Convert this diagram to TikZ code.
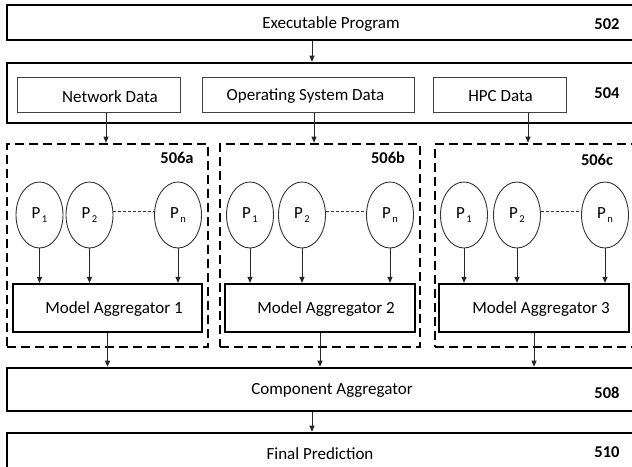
\documentclass[tikz,border=0pt]{standalone}
\usepackage{fontspec}
\setmainfont{Carlito}
\usetikzlibrary{arrows.meta,shapes.geometric}

% subscripted model label: P with a small lowered index
\newcommand\pmodel[1]{P\kern1.5pt\raisebox{-0.45ex}{\fontsize{10.5}{11}\selectfont #1}}

\tikzset{
  txt/.style={font=\fontsize{17}{20}\selectfont, inner sep=0pt, yshift=-1.5pt},
  num/.style={font=\fontsize{16.5}{19}\selectfont\bfseries, inner sep=0pt},
  widebox/.style={draw, line width=2.6pt, inner sep=0pt},
  databox/.style={draw=black!75, line width=1pt, inner sep=0pt, minimum height=35pt},
  groupbox/.style={draw, line width=2.6pt, dash pattern=on 9pt off 5pt, inner sep=0pt,
                   minimum height=203pt},
  aggbox/.style={draw, line width=2.2pt, inner sep=0pt, minimum width=190pt, minimum height=48pt},
  pnode/.style={ellipse, draw=black!80, line width=0.9pt, inner sep=0pt,
                minimum width=47pt, minimum height=66pt,
                font=\fontsize{17}{20}\selectfont},
  arr/.style={draw=black!85, line width=0.9pt, -{Triangle[length=6pt,width=5pt]}},
  gap/.style={draw=black!80, line width=0.8pt, dash pattern=on 3pt off 2pt},
}

\begin{document}
\begin{tikzpicture}[x=1pt,y=-1pt]
\useasboundingbox (0,0) rectangle (632,466);
\clip (0,0) rectangle (632,466);

% top level: program and collected data
\node[widebox, minimum width=648pt, minimum height=35pt] (prog) at (331,22.5) {};
\node[txt] (progtxt) at (331,23) {Executable Program};
\node[num] (n502) at (607,24) {502};

\node[widebox, minimum width=648pt, minimum height=60pt] (data) at (331,93) {};
\node[databox, minimum width=163pt] (net) at (98.5,94.5) {};
\node[databox, minimum width=212pt] (os) at (308,94.5) {};
\node[databox, minimum width=133pt] (hpc) at (499.5,94.5) {};
\node[txt] (nettxt) at (110,95) {Network Data};
\node[txt] (ostxt) at (305.5,95) {Operating System Data};
\node[txt] (hpctxt) at (500.5,95) {HPC Data};
\node[num] (n504) at (607,93) {504};

% three model groups
\node[groupbox, minimum width=201pt] (ga) at (107.5,245.5) {};
\node[groupbox, minimum width=200pt] (gb) at (320,245.5) {};
\node[groupbox, minimum width=225pt] (gc) at (547.5,245.5) {};
\node[num] (n506a) at (177,158) {506a};
\node[num] (n506b) at (388,158) {506b};
\node[num] (n506c) at (597,160) {506c};

\node[pnode] (a1) at (39.5,215) {\pmodel{1}};
\node[pnode] (a2) at (89.5,215) {\pmodel{2}};
\node[pnode] (an) at (178,215) {\pmodel{n}};
\node[pnode] (b1) at (250,215) {\pmodel{1}};
\node[pnode] (b2) at (302,215) {\pmodel{2}};
\node[pnode] (bn) at (390,215) {\pmodel{n}};
\node[pnode] (c1) at (464,215) {\pmodel{1}};
\node[pnode] (c2) at (517,215) {\pmodel{2}};
\node[pnode] (cn) at (605,215) {\pmodel{n}};

\node[aggbox, minimum width=189pt] (agga) at (107.5,308) {};
\node[aggbox] (aggb) at (320,308) {};
\node[aggbox] (aggc) at (534,308) {};
\node[txt] (aggatxt) at (114,308) {Model Aggregator 1};
\node[txt] (aggbtxt) at (326,308) {Model Aggregator 2};
\node[txt] (aggctxt) at (541,308) {Model Aggregator 3};

% bottom level
\node[widebox, minimum width=648pt, minimum height=43pt] (comp) at (331,389.5) {};
\node[txt] (comptxt) at (332,389) {Component Aggregator};
\node[num] (n508) at (607,393) {508};

\node[widebox, minimum width=648pt, minimum height=57pt] (final) at (331,461.5) {};
\node[txt] (finaltxt) at (320,452) {Final Prediction};
\node[num] (n510) at (607,452) {510};

% connectors
\draw[arr] ([xshift=-19pt]prog.south) -- ([xshift=-19pt]prog.south |- data.north);
\draw[arr] ([xshift=7.5pt]net.south) -- ([xshift=7.5pt]net.south |- ga.north);
\draw[arr] ([xshift=6pt]os.south) -- ([xshift=6pt]os.south |- gb.north);
\draw[arr] ([xshift=28.5pt]hpc.south) -- ([xshift=28.5pt]hpc.south |- gc.north);

\foreach \p/\g in {a1/agga,a2/agga,an/agga,b1/aggb,b2/aggb,bn/aggb,c1/aggc,c2/aggc,cn/aggc}
  \draw[arr] (\p.south) -- (\p.south |- \g.north);

\draw[gap] ([yshift=4pt]a2.east) -- ([yshift=4pt]an.west);
\draw[gap] ([yshift=4pt]b2.east) -- ([yshift=4pt]bn.west);
\draw[gap] ([yshift=4pt]c2.east) -- ([yshift=4pt]cn.west);

\draw[arr] (agga.south) -- (agga.south |- comp.north);
\draw[arr] (aggb.south) -- (aggb.south |- comp.north);
\draw[arr] (aggc.south) -- (aggc.south |- comp.north);

\draw[arr] ([xshift=-19pt]comp.south) -- ([xshift=-19pt]comp.south |- final.north);
\end{tikzpicture}
\end{document}
